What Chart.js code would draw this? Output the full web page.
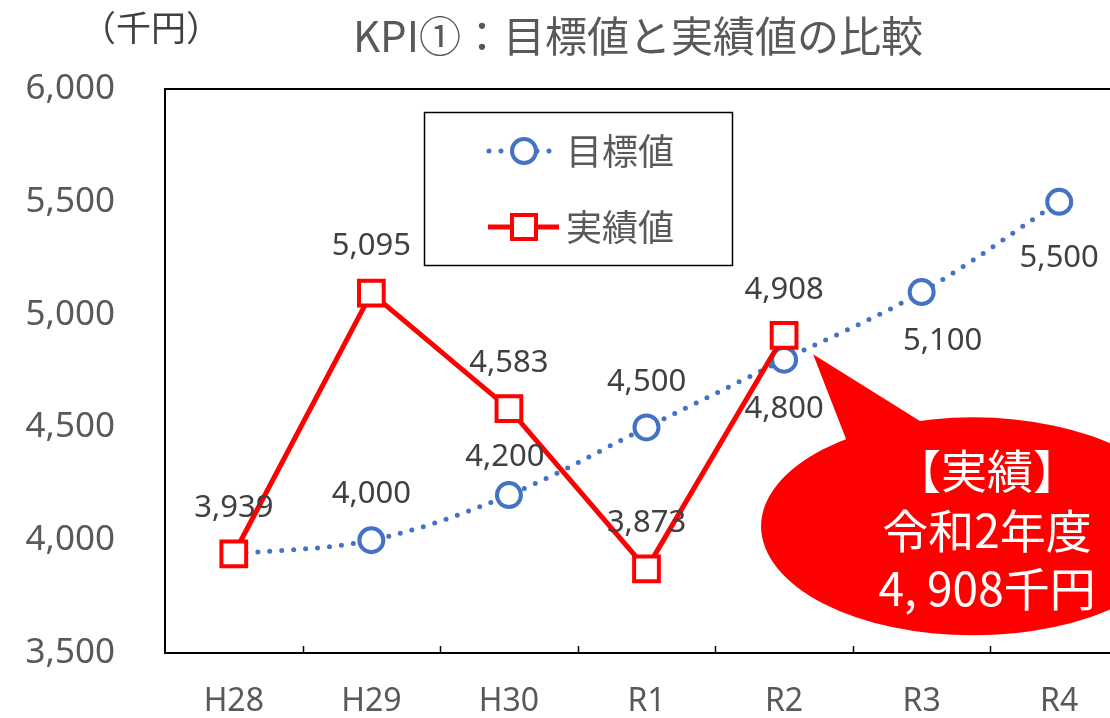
<!DOCTYPE html>
<html>
<head>
<meta charset="utf-8">
<script src="https://cdn.jsdelivr.net/npm/chart.js@4.4.1/dist/chart.umd.min.js"></script>
<style>
  html, body { margin: 0; padding: 0; background: #fff; overflow: hidden; }
</style>
</head>
<body>
<canvas id="kpiChart" width="1110" height="718"></canvas>
<script>
const years = ['H28', 'H29', 'H30', 'R1', 'R2', 'R3', 'R4'];
const targetVals = [3939, 4000, 4200, 4500, 4800, 5100, 5500];
const actualVals = [3939, 5095, 4583, 3873, 4908, null, null];
const yTicks = [3500, 4000, 4500, 5000, 5500, 6000];

const chartTitle = 'KPI①：目標値と実績値の比較';
const unitText = '（千円）';
const calloutLines = ['【実績】', '令和2年度', '4, 908千円'];
const calloutIndex = 4;

const BLUE = '#4472C4';
const RED = '#FF0000';
const jp = '"Noto Sans CJK JP", sans-serif';
const num = '"Noto Sans", sans-serif';

const fmt = v => v.toLocaleString('en-US');

// plot area runs past the right edge of the canvas
const PLOT_RIGHT = 1128;

// label offsets (dx, dy) from each point
const targetLabelPos = [null, [0, -46], [-4, -38], [0, -45], [0, 49], [21, 49], [0, 56]];
const actualLabelPos = [[0, -46], [0, -47], [0, -46], [0, -46], [0, -45]];

const extras = {
  id: 'extras',
  afterLayout(chart) {
    const x = chart.scales.x;
    x.right = PLOT_RIGHT;
    x.width = x.right - x.left;
    x.configure();
    chart.chartArea.right = PLOT_RIGHT;
    chart.chartArea.width = PLOT_RIGHT - chart.chartArea.left;
  },
  beforeDatasetsDraw(chart) {
    const { ctx, chartArea: a, scales: { x } } = chart;
    ctx.save();
    ctx.strokeStyle = '#000';
    ctx.lineWidth = 2;
    ctx.beginPath();
    ctx.moveTo(a.right + 5, a.top);
    ctx.lineTo(a.left, a.top);
    ctx.lineTo(a.left, a.bottom);
    ctx.lineTo(a.right + 5, a.bottom);
    ctx.stroke();
    // small tick marks between categories
    ctx.lineWidth = 1.5;
    const half = (x.getPixelForValue(1) - x.getPixelForValue(0)) / 2;
    for (let i = 0; i < years.length - 1; i++) {
      const px = Math.round(x.getPixelForValue(i) + half) + 0.5;
      ctx.beginPath();
      ctx.moveTo(px, a.bottom);
      ctx.lineTo(px, a.bottom - 7);
      ctx.stroke();
    }
    ctx.restore();
  },
  afterDatasetsDraw(chart) {
    const { ctx } = chart;
    ctx.save();

    // speech bubble pointing at the R2 result
    const p = chart.getDatasetMeta(1).data[calloutIndex];
    const tx = p.x + 29, ty = p.y + 19;
    const cx = tx + 160, cy = ty + 172;
    ctx.fillStyle = RED;
    ctx.beginPath();
    ctx.ellipse(cx, cy, 212, 109, 0, 0, Math.PI * 2);
    ctx.fill();
    ctx.beginPath();
    ctx.moveTo(tx, ty);
    ctx.lineTo(tx + 35, ty + 90);
    ctx.lineTo(tx + 120, ty + 75);
    ctx.closePath();
    ctx.fill();
    ctx.fillStyle = '#fff';
    ctx.font = '46px ' + jp;
    ctx.textAlign = 'center';
    ctx.textBaseline = 'middle';
    [-56, 4, 62].forEach((dy, i) => ctx.fillText(calloutLines[i], cx + 14, cy + dy));

    // value labels
    ctx.fillStyle = '#404040';
    ctx.font = '31px ' + num;
    chart.getDatasetMeta(0).data.forEach((pt, i) => {
      const o = targetLabelPos[i];
      if (!o) return;
      ctx.fillText(fmt(targetVals[i]), pt.x + o[0], pt.y + o[1]);
    });
    chart.getDatasetMeta(1).data.forEach((pt, i) => {
      if (actualVals[i] == null) return;
      const o = actualLabelPos[i];
      ctx.fillText(fmt(actualVals[i]), pt.x + o[0], pt.y + o[1]);
    });

    // legend box
    ctx.strokeStyle = '#000';
    ctx.lineWidth = 1.5;
    ctx.strokeRect(424.5, 112.5, 308, 153);
    ctx.strokeStyle = BLUE;
    ctx.lineWidth = 5;
    ctx.lineCap = 'round';
    ctx.setLineDash([0, 12]);
    ctx.beginPath();
    ctx.moveTo(489, 151);
    ctx.lineTo(560, 151);
    ctx.stroke();
    ctx.setLineDash([]);
    ctx.lineWidth = 4;
    ctx.fillStyle = '#fff';
    ctx.beginPath();
    ctx.arc(524, 151, 12, 0, Math.PI * 2);
    ctx.fill();
    ctx.stroke();
    ctx.strokeStyle = RED;
    ctx.lineWidth = 5;
    ctx.lineCap = 'butt';
    ctx.beginPath();
    ctx.moveTo(488, 227);
    ctx.lineTo(559, 227);
    ctx.stroke();
    ctx.lineWidth = 4;
    ctx.fillRect(512, 215, 24, 24);
    ctx.strokeRect(512, 215, 24, 24);
    ctx.fillStyle = '#595959';
    ctx.font = '36px ' + jp;
    ctx.textAlign = 'left';
    ctx.fillText('目標値', 566, 151);
    ctx.fillText('実績値', 566, 227);

    // titles
    ctx.textAlign = 'center';
    ctx.font = '42px ' + jp;
    ctx.fillText(chartTitle, 638, 36);
    ctx.fillStyle = '#404040';
    ctx.font = '35px ' + jp;
    ctx.fillText(unitText, 151, 28);
    ctx.restore();
  }
};

new Chart(document.getElementById('kpiChart'), {
  type: 'line',
  data: {
    labels: years,
    datasets: [
      {
        label: '目標値',
        data: targetVals,
        order: 2,
        borderColor: BLUE,
        borderWidth: 5,
        borderDash: [0, 12],
        borderCapStyle: 'round',
        tension: 0.35,
        pointStyle: 'circle',
        pointRadius: targetVals.map((v, i) => i === 0 ? 0 : 12),
        pointBorderWidth: 4,
        pointBorderColor: BLUE,
        pointBackgroundColor: '#fff'
      },
      {
        label: '実績値',
        data: actualVals,
        order: 1,
        borderColor: RED,
        borderWidth: 5,
        tension: 0,
        pointStyle: 'rect',
        pointRadius: 17.5,
        pointBorderWidth: 4,
        pointBorderColor: RED,
        pointBackgroundColor: '#fff'
      }
    ]
  },
  options: {
    responsive: false,
    animation: false,
    layout: { padding: { top: 89, right: 0, left: 0, bottom: 0 } },
    plugins: { legend: { display: false }, tooltip: { enabled: false } },
    scales: {
      x: {
        offset: true,
        grid: { display: false, drawTicks: false },
        border: { display: false },
        ticks: { color: '#595959', font: { family: num, size: 32 }, padding: 30 },
        afterFit: s => { s.height = 65; s.paddingLeft = 0; s.paddingRight = 0; }
      },
      y: {
        min: 3500,
        max: 6000,
        afterBuildTicks: s => { s.ticks = yTicks.map(v => ({ value: v })); },
        grid: { display: false, drawTicks: false },
        border: { display: false },
        ticks: { color: '#595959', font: { family: num, size: 35 }, padding: 50, callback: v => fmt(v) },
        afterFit: s => { s.width = 165; s.paddingTop = 0; s.paddingBottom = 0; }
      }
    }
  },
  plugins: [extras]
});
</script>
</body>
</html>
